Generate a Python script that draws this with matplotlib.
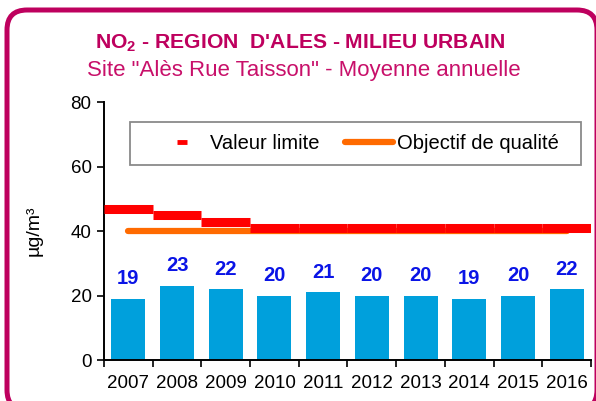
import matplotlib
matplotlib.use("Agg")
import matplotlib.pyplot as plt
from matplotlib.patches import FancyBboxPatch, Rectangle
from matplotlib.lines import Line2D
from matplotlib.transforms import IdentityTransform
import numpy as np

years = ["2007", "2008", "2009", "2010", "2011", "2012", "2013", "2014", "2015", "2016"]
values = [19, 23, 22, 20, 21, 20, 20, 19, 20, 22]
valeur_limite = [46.8, 45, 42.8, 41, 41, 41, 41, 41, 41, 41]
objectif = [40] * 10

plt.rcParams['font.family'] = ['Liberation Sans', 'DejaVu Sans']
plt.rcParams['mathtext.fontset'] = 'custom'
plt.rcParams['mathtext.rm'] = 'Liberation Sans'
plt.rcParams['mathtext.bf'] = 'Liberation Sans:bold'
fig = plt.figure(figsize=(5.96, 4.01), dpi=100)

mag = '#BE005E'
frame = FancyBboxPatch((7, -9), 590, 400, boxstyle="round,pad=0,rounding_size=20",
                       transform=IdentityTransform(), fill=False, ec=mag, lw=3.6, clip_on=False)
fig.patches.append(frame)

fig.text(0.503, 0.893, "NO$_\\mathbf{2}$ - REGION  D'ALES - MILIEU URBAIN", ha='center', va='center',
         color=mag, fontsize=15.2, fontweight='bold')
fig.text(0.509, 0.824, 'Site "Alès Rue Taisson" - Moyenne annuelle', ha='center', va='center',
         color='#C8106A', fontsize=16)

ax = fig.add_axes([0.1745, 0.1022, 0.8171, 0.6434])
x = np.arange(len(years))
ax.bar(x, values, width=0.7, color='#00A0DC', zorder=2)
for xi, v in zip(x, values):
    ax.text(xi, v + 6.2, str(v), ha='center', va='center', color='#0A14E6',
            fontsize=14.5, fontweight='bold')
ax.plot(x, objectif, color='#FF6A00', lw=4.5, solid_capstyle='round', zorder=3)
ax.hlines(valeur_limite, x - 0.5, x + 0.5, color='#FF0000', lw=6.5, zorder=4)

ax.set_xlim(-0.5, len(years) - 0.5)
ax.set_ylim(0, 80)
ax.set_yticks([0, 20, 40, 60, 80])
ax.set_xticks(x)
ax.set_xticklabels(years)
ax.set_xticks(np.arange(-0.5, len(years)), minor=True)
ax.tick_params(axis='x', which='major', length=0, labelsize=13.5, pad=11)
ax.tick_params(axis='x', which='minor', length=5, width=1.2)
ax.tick_params(axis='y', labelsize=13.5, length=5, width=1.2, pad=4)
for s in ['top', 'right']:
    ax.spines[s].set_visible(False)
ax.spines['left'].set_linewidth(1.4)
ax.spines['bottom'].set_linewidth(1.4)
ax.set_ylabel("µg/m³", fontsize=14, labelpad=20)

ax.add_patch(Rectangle((0.053, 0.756), 0.926, 0.166, transform=ax.transAxes,
                       facecolor='white', edgecolor='#8a8a8a', lw=1.3, zorder=6, clip_on=False))
handles = [Line2D([0], [0], color='#FF0000', ls='', marker='_', markersize=7, markeredgewidth=3.5),
           Line2D([0], [0], color='#FF6A00', lw=4.5, solid_capstyle='round')]
leg = ax.legend(handles, ['Valeur limite', 'Objectif de qualité'], ncol=2,
                loc='center', bbox_to_anchor=(0.522, 0.839),
                fontsize=14.5, frameon=False,
                handlelength=2.4, columnspacing=1.25, handletextpad=0.2, borderpad=0.3,
                borderaxespad=0)
leg.set_zorder(7)

fig.savefig("out.png", dpi=100)
